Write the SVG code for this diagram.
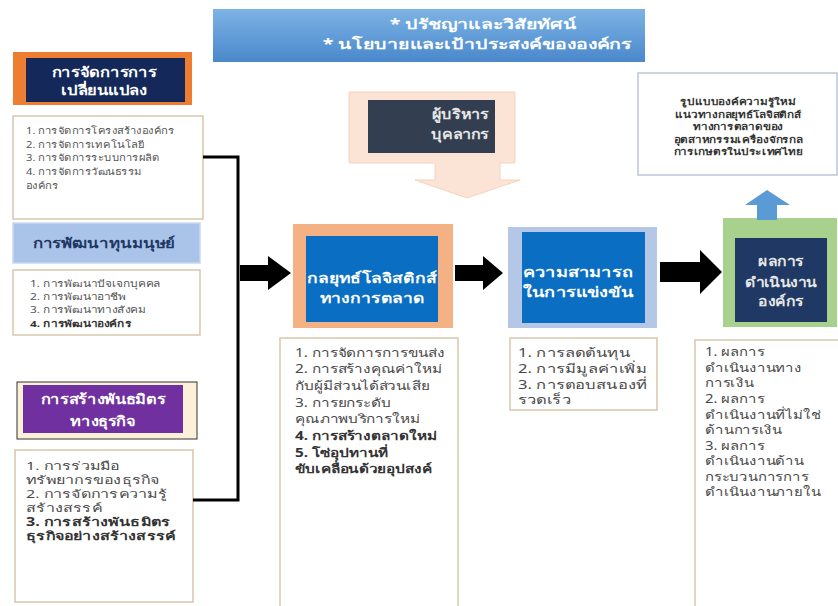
<svg xmlns="http://www.w3.org/2000/svg" width="838" height="606" viewBox="0 0 838 606">
<defs>
<linearGradient id="bannerGrad" x1="0" y1="0" x2="0" y2="1">
<stop offset="0" stop-color="#7db3e4"/>
<stop offset="1" stop-color="#4a88cc"/>
</linearGradient>
<style>
text{font-family:"Noto Sans","Liberation Sans",sans-serif;dominant-baseline:central}
.hw{fill:#ffffff;font-weight:bold;font-size:14px;text-anchor:middle}
.hl{fill:#ffffff;font-weight:bold;font-size:14px;text-anchor:start}
.hg{fill:#e6e6e6;font-weight:bold;font-size:14px;text-anchor:middle}
.hn{fill:#1f3864;font-weight:bold;font-size:14px;text-anchor:middle}
.lst{fill:#4a4a4a;font-size:12px}
.sm{fill:#555;font-size:9.5px}
.bd{font-weight:bold;fill:#333}
.kn{fill:#333;font-weight:bold;font-size:9px;text-anchor:middle}
.box{fill:#ffffff;stroke:#d8c6ad;stroke-width:1.5}
.conn{fill:none;stroke:#000;stroke-width:3}
.arr{fill:#000}
</style>
</defs>
<rect width="838" height="606" fill="#ffffff"/>

<g id="banner">
<rect x="213" y="9" width="432" height="53" fill="url(#bannerGrad)"/>
<g transform="translate(483,0) scale(1.39,1)"><text class="hw" x="0" y="24">* ปรัชญาและวิสัยทัศน์</text></g>
<g transform="translate(477,0) scale(1.39,1)"><text class="hw" x="0" y="44">* นโยบายและเป้าประสงค์ขององค์กร</text></g>
</g>

<g id="change-mgmt">
<rect x="13" y="52" width="179" height="53" fill="#ed7d31"/>
<rect x="26" y="58" width="159" height="44" fill="#14295a"/>
<g transform="translate(104,0) scale(1.18,1)">
<text class="hw" x="0" y="72">การจัดการการ</text>
<text class="hw" x="0" y="90">เปลี่ยนแปลง</text>
</g>
</g>
<g id="change-list">
<rect class="box" x="13" y="116" width="190" height="103"/>
<g class="sm" transform="translate(26,0) scale(1.18,1)">
<text x="0" y="130">1. การจัดการโครงสร้างองค์กร</text>
<text x="0" y="144">2. การจัดการเทคโนโลยี</text>
<text x="0" y="157">3. การจัดการระบบการผลิต</text>
<text x="0" y="171">4. การจัดการวัฒนธรรม</text>
<text x="0" y="185">องค์กร</text>
</g>
</g>

<g id="human-capital">
<rect x="13" y="223" width="187" height="40" fill="#a9c4e8" stroke="#c9d7ee" stroke-width="1.5"/>
<g transform="translate(104,0) scale(1.2,1)"><text class="hn" x="0" y="243">การพัฒนาทุนมนุษย์</text></g>
</g>
<g id="human-list">
<rect class="box" x="13" y="270" width="187" height="65"/>
<g class="sm" transform="translate(30,0) scale(1.25,1)">
<text x="0" y="283">1.  การพัฒนาปัจเจกบุคคล</text>
<text x="0" y="296">2. การพัฒนาอาชีพ</text>
<text x="0" y="309">3.  การพัฒนาทางสังคม</text>
<text class="bd" x="0" y="323">4.  การพัฒนาองค์กร</text>
</g>
</g>

<g id="alliance">
<rect x="17" y="382" width="180" height="57" fill="#fdf0d8" stroke="#333" stroke-width="1"/>
<rect x="23" y="385" width="160" height="48" fill="#7030a0"/>
<g transform="translate(103,0) scale(1.17,1)">
<text class="hw" x="0" y="398">การสร้างพันธมิตร</text>
<text class="hw" x="0" y="420">ทางธุรกิจ</text>
</g>
</g>
<g id="alliance-list">
<rect class="box" x="15" y="450" width="178" height="152"/>
<g class="lst" transform="translate(26,0) scale(1.4,1)" style="font-size:11.5px">
<text x="0" y="465">1.  การร่วมมือ</text>
<text x="0" y="479">ทรัพยากรของธุรกิจ</text>
<text x="0" y="493">2.  การจัดการความรู้</text>
<text x="0" y="507">สร้างสรรค์</text>
<text class="bd" x="0" y="521">3.  การสร้างพันธมิตร</text>
<text class="bd" x="0" y="535">ธุรกิจอย่างสร้างสรรค์</text>
</g>
</g>

<g id="executives">
<path d="M349,92 H515 V163 H500 V180 H520 L467,198 L415,180 H435 V163 H349 Z" fill="#fbe4d5" stroke="#f6d3bd" stroke-width="1"/>
<rect x="368" y="100" width="127" height="53" fill="#333f50"/>
<g transform="translate(460,0) scale(1.15,1)">
<text class="hg" x="0" y="113">ผู้บริหาร</text>
<text class="hg" x="0" y="133">บุคลากร</text>
</g>
</g>

<g id="strategy">
<rect x="293" y="224" width="160" height="104" fill="#f4b183"/>
<rect x="306" y="236" width="132" height="86" fill="#0a6fc2"/>
<g transform="translate(372,0) scale(1.25,1)">
<text class="hw" x="0" y="278">กลยุทธ์โลจิสติกส์</text>
<text class="hw" x="0" y="298">ทางการตลาด</text>
</g>
</g>
<g id="strategy-list">
<rect class="box" x="280" y="338" width="178" height="270"/>
<g class="lst" transform="translate(295,0) scale(1.28,1)">
<text x="0" y="352">1. การจัดการการขนส่ง</text>
<text x="0" y="368">2. การสร้างคุณค่าใหม่</text>
<text x="0" y="385">กับผู้มีส่วนได้ส่วนเสีย</text>
<text x="0" y="402">3. การยกระดับ</text>
<text x="0" y="418">คุณภาพบริการใหม่</text>
<text class="bd" x="0" y="435">4. การสร้างตลาดใหม่</text>
<text class="bd" x="0" y="452">5. โซ่อุปทานที่</text>
<text class="bd" x="0" y="468">ขับเคลื่อนด้วยอุปสงค์</text>
</g>
</g>

<g id="competitiveness">
<rect x="508" y="227" width="149" height="101" fill="#b4c7e7"/>
<rect x="522" y="232" width="123" height="91" fill="#0a6fc2"/>
<g transform="translate(523,0) scale(1.3,1)">
<text class="hl" x="0" y="272">ความสามารถ</text>
<text class="hl" x="0" y="292">ในการแข่งขัน</text>
</g>
</g>
<g id="competitiveness-list">
<rect class="box" x="510" y="338" width="147" height="72"/>
<g class="lst" transform="translate(518,0) scale(1.38,1)">
<text x="0" y="352">1.  การลดต้นทุน</text>
<text x="0" y="368">2. การมีมูลค่าเพิ่ม</text>
<text x="0" y="384">3. การตอบสนองที่</text>
<text x="0" y="399">รวดเร็ว</text>
</g>
</g>

<g id="knowledge">
<rect x="638" y="73" width="199" height="102" fill="#ffffff" stroke="#b9c8d8" stroke-width="1.5"/>
<g transform="translate(738,0) scale(1.3,1)">
<text class="kn" x="0" y="102">รูปแบบองค์ความรู้ใหม่</text>
<text class="kn" x="0" y="114.5">แนวทางกลยุทธ์โลจิสติกส์</text>
<text class="kn" x="0" y="127">ทางการตลาดของ</text>
<text class="kn" x="0" y="139.5">อุตสาหกรรมเครื่องจักรกล</text>
<text class="kn" x="0" y="152">การเกษตรในประเทศไทย</text>
</g>
</g>

<g id="performance">
<rect x="723" y="218" width="114" height="109" fill="#a9d18e"/>
<rect x="735" y="238" width="92" height="84" fill="#1f3864"/>
<g transform="translate(781,0) scale(1.12,1)">
<text class="hg" x="0" y="260">ผลการ</text>
<text class="hg" x="0" y="281">ดำเนินงาน</text>
<text class="hg" x="0" y="300">องค์กร</text>
</g>
</g>
<g id="performance-list">
<rect class="box" x="695" y="340" width="150" height="270"/>
<g class="lst" transform="translate(705,0) scale(1.24,1)">
<text x="0" y="352">1. ผลการ</text>
<text x="0" y="368">ดำเนินงานทาง</text>
<text x="0" y="383">การเงิน</text>
<text x="0" y="399">2.  ผลการ</text>
<text x="0" y="415">ดำเนินงานที่ไม่ใช่</text>
<text x="0" y="430">ด้านการเงิน</text>
<text x="0" y="446">3.  ผลการ</text>
<text x="0" y="461">ดำเนินงานด้าน</text>
<text x="0" y="477">กระบวนการการ</text>
<text x="0" y="492">ดำเนินงานภายใน</text>
</g>
</g>

<g id="connectors">
<polyline class="conn" points="203,157 238,157 238,500 193,500"/>
<polygon class="arr" points="240,265 268,265 268,256 291,273 268,290 268,281 240,281"/>
<polygon class="arr" points="455,265 483,265 483,256 503,273 483,290 483,281 455,281"/>
<polygon class="arr" points="660,262 700,262 700,250 722,272 700,294 700,282 660,282"/>
<polygon points="757,220 777,220 777,205 790,205 767,190 745,205 757,205" fill="#5b9bd5"/>
</g>
</svg>
